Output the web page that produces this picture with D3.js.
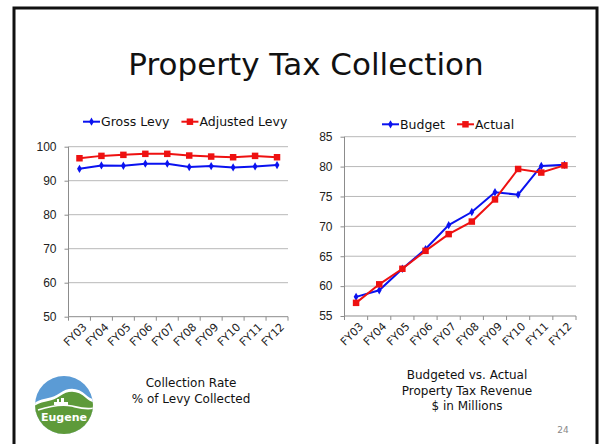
<!DOCTYPE html>
<html>
<head>
<meta charset="utf-8">
<script src="https://cdn.jsdelivr.net/npm/d3@7"></script>
<style>
  body { margin: 0; background: #fff; }
  svg { display: block; font-family: "DejaVu Sans", sans-serif; }
  .grid line { stroke: #b8b8b8; stroke-width: 1; }
  .axis path, .axis line { stroke: #8c8c8c; }
  .axis text { fill: #222; font-size: 12px; }
  .axis text.cat { font-size: 11px; }
</style>
</head>
<body>
<div id="slide"></div>
<script>
"use strict";

var fiscalYears = ["FY03", "FY04", "FY05", "FY06", "FY07", "FY08", "FY09", "FY10", "FY11", "FY12"];
var grossLevy = [93.5, 94.5, 94.4, 95.0, 95.0, 94.0, 94.3, 93.9, 94.2, 94.6];
var adjustedLevy = [96.6, 97.3, 97.6, 97.9, 97.9, 97.4, 97.1, 96.9, 97.3, 96.9];
var budget = [58.2, 59.3, 62.9, 66.2, 70.2, 72.4, 75.7, 75.3, 80.1, 80.3];
var actual = [57.2, 60.3, 62.9, 65.9, 68.7, 70.8, 74.5, 79.6, 79.0, 80.2];
var rateTicks = [50, 60, 70, 80, 90, 100];
var revenueTicks = [55, 60, 65, 70, 75, 80, 85];

var width = 602, height = 444;
var svg = d3.select("#slide").append("svg")
    .attr("width", width)
    .attr("height", height);

// slide frame
svg.append("rect")
    .attr("x", 14).attr("y", 8)
    .attr("width", 583).attr("height", 460)
    .attr("fill", "none")
    .attr("stroke", "#111")
    .attr("stroke-width", 3);

svg.append("text")
    .attr("x", 306).attr("y", 75)
    .attr("text-anchor", "middle")
    .attr("font-size", 31)
    .attr("fill", "#111")
    .text("Property Tax Collection");

function drawChart(opts) {
    var x = d3.scaleBand().domain(fiscalYears).range([opts.left, opts.right]);
    var y = d3.scaleLinear().domain(opts.domain).range([opts.bottom, opts.top]);
    var g = svg.append("g");

    g.append("g")
        .attr("class", "grid")
        .selectAll("line")
        .data(opts.ticks.slice(1))
        .enter().append("line")
        .attr("x1", opts.left).attr("x2", opts.right)
        .attr("y1", d => y(d)).attr("y2", d => y(d));

    g.append("g")
        .attr("class", "axis")
        .attr("transform", "translate(" + opts.left + ",0)")
        .call(d3.axisLeft(y).tickValues(opts.ticks).tickSize(4).tickPadding(8))
        .call(a => a.select(".domain").attr("d", "M0," + y(opts.domain[1]) + "V" + y(opts.domain[0])));

    var xAxis = g.append("g")
        .attr("class", "axis")
        .attr("transform", "translate(0," + opts.bottom + ")");
    xAxis.append("line")
        .attr("x1", opts.left).attr("x2", opts.right)
        .attr("stroke", "#8c8c8c");
    xAxis.selectAll(".tick")
        .data(fiscalYears.concat(["end"]))
        .enter().append("line")
        .attr("x1", (d, i) => opts.left + i * x.bandwidth())
        .attr("x2", (d, i) => opts.left + i * x.bandwidth())
        .attr("y1", 0).attr("y2", 4)
        .attr("stroke", "#8c8c8c");
    xAxis.selectAll("text")
        .data(fiscalYears)
        .enter().append("text")
        .attr("class", "cat")
        .attr("text-anchor", "end")
        .attr("transform", d => "translate(" + (x(d) + x.bandwidth() / 2 + 8) + ",11) rotate(-45)")
        .text(d => d);

    var line = d3.line()
        .x((d, i) => x(fiscalYears[i]) + x.bandwidth() / 2)
        .y(d => y(d));

    opts.series.forEach(function (s) {
        g.append("path")
            .datum(s.values)
            .attr("fill", "none")
            .attr("stroke", s.color)
            .attr("stroke-width", 2)
            .attr("d", line);
        g.selectAll(null)
            .data(s.values)
            .enter().append("path")
            .attr("transform", (d, i) => "translate(" + (x(fiscalYears[i]) + x.bandwidth() / 2) + "," + y(d) + ")")
            .attr("fill", s.color)
            .attr("d", d3.symbol().type(s.symbol).size(s.size));
    });

    // legend
    var lg = g.append("g").attr("transform", "translate(0," + opts.legendY + ")");
    var lx = opts.legendX;
    opts.series.forEach(function (s) {
        lg.append("line")
            .attr("x1", lx).attr("x2", lx + 17)
            .attr("stroke", s.color).attr("stroke-width", 2);
        lg.append("path")
            .attr("transform", "translate(" + (lx + 8.5) + ",0)")
            .attr("fill", s.color)
            .attr("d", d3.symbol().type(s.symbol).size(s.size));
        var t = lg.append("text")
            .attr("x", lx + 18).attr("y", 4.5)
            .attr("font-size", 12.5)
            .attr("fill", "#111")
            .text(s.name);
        lx += 18 + t.node().getComputedTextLength() + 12;
    });
}

drawChart({
    left: 68.5, right: 288, top: 146.7, bottom: 316.7,
    domain: [50, 100], ticks: rateTicks,
    legendX: 83, legendY: 121.7,
    series: [
        { name: "Gross Levy", values: grossLevy, color: "#0a12f0", symbol: d3.symbolDiamond, size: 20 },
        { name: "Adjusted Levy", values: adjustedLevy, color: "#ee1111", symbol: d3.symbolSquare, size: 42 }
    ]
});

drawChart({
    left: 344.5, right: 576, top: 136.7, bottom: 316,
    domain: [55, 85], ticks: revenueTicks,
    legendX: 382, legendY: 124.3,
    series: [
        { name: "Budget", values: budget, color: "#0a12f0", symbol: d3.symbolDiamond, size: 20 },
        { name: "Actual", values: actual, color: "#ee1111", symbol: d3.symbolSquare, size: 42 }
    ]
});

// captions
function caption(cx, y0, lines) {
    var t = svg.append("text")
        .attr("x", cx).attr("y", y0)
        .attr("text-anchor", "middle")
        .attr("font-size", 12)
        .attr("fill", "#111");
    lines.forEach(function (l, i) {
        t.append("tspan").attr("x", cx).attr("dy", i ? 15.5 : 0).text(l);
    });
}
caption(191, 387, ["Collection Rate", "% of Levy Collected"]);
caption(467, 379, ["Budgeted vs. Actual", "Property Tax Revenue", "$ in Millions"]);

svg.append("text")
    .attr("x", 563).attr("y", 433)
    .attr("text-anchor", "middle")
    .attr("font-size", 9)
    .attr("fill", "#888")
    .text("24");

// Eugene logo
var logo = svg.append("g").attr("transform", "translate(64,405)");
var r = 29;
svg.append("defs").append("clipPath").attr("id", "logoClip")
    .append("circle").attr("r", r);
var lc = logo.append("g").attr("clip-path", "url(#logoClip)");
lc.append("rect").attr("x", -r).attr("y", -r).attr("width", 2 * r).attr("height", 2 * r).attr("fill", "#5b9bd5");
lc.append("path")
    .attr("d", "M-30,-2 C-20,-8 -12,-6 -4,-12 C4,-18 14,-18 22,-10 C26,-6 30,-6 32,-4 L32,32 L-30,32 Z")
    .attr("fill", "#fff");
lc.append("path")
    .attr("d", "M-30,1 C-20,-5 -12,-3 -4,-9 C4,-15 14,-15 22,-7 C26,-3 30,-3 32,-1 L32,32 L-30,32 Z")
    .attr("fill", "#5e9a3a");
lc.append("path")
    .attr("d", "M-26,5 C-14,1 -2,-1 8,1 C16,3 22,5 30,3")
    .attr("fill", "none").attr("stroke", "#fff").attr("stroke-width", 1.6);
lc.append("path")
    .attr("d", "M-10,-3 h3 v-3 h2 v3 h2 v-4 h3 v4 h4 v3 h-14 Z")
    .attr("fill", "#fff");
logo.append("text")
    .attr("y", 16)
    .attr("text-anchor", "middle")
    .attr("font-size", 11)
    .attr("font-weight", "bold")
    .attr("fill", "#fff")
    .text("Eugene");
</script>
</body>
</html>
